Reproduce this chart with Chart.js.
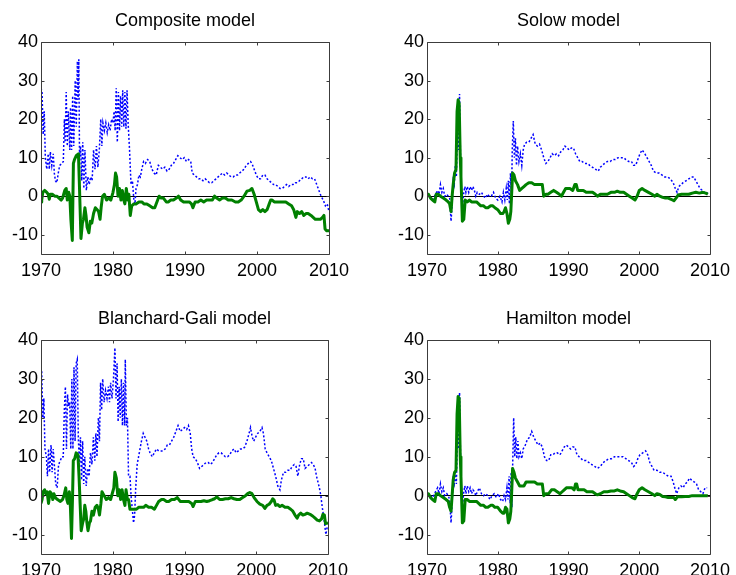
<!DOCTYPE html>
<html>
<head>
<meta charset="utf-8">
<script src="https://cdn.jsdelivr.net/npm/chart.js@4.4.1/dist/chart.umd.min.js"></script>
<style>
  html, body { margin: 0; padding: 0; background: #fff; overflow: hidden; }
  body { width: 736px; height: 575px; position: relative; }
  .panel { position: absolute; }
</style>
</head>
<body>
<div class="panel" id="p0"><canvas id="c0"></canvas></div>
<div class="panel" id="p1"><canvas id="c1"></canvas></div>
<div class="panel" id="p2"><canvas id="c2"></canvas></div>
<div class="panel" id="p3"><canvas id="c3"></canvas></div>
<script>
// ---- data ----
const titles = ["Composite model", "Solow model", "Blanchard-Gali model", "Hamilton model"];
const xTicks = [1970, 1980, 1990, 2000, 2010];
const yTicks = [-10, 0, 10, 20, 30, 40];

// [year, value]
const compositeBlue = [[1970.0,28],[1970.15,27],[1970.3,16],[1970.45,22],[1970.6,10],[1970.8,7],[1971.0,11],[1971.15,7],[1971.3,11.5],[1971.5,8],[1971.7,11],[1971.85,6],[1972.0,4],[1972.2,3.5],[1972.4,6],[1972.6,8],[1972.9,8.5],[1973.1,9],[1973.25,20],[1973.35,14],[1973.5,27],[1973.65,13],[1973.8,22],[1974.0,12],[1974.1,23],[1974.25,12],[1974.4,26],[1974.55,13],[1974.75,30],[1974.9,18],[1975.05,35],[1975.15,25],[1975.25,35.5],[1975.35,10],[1975.5,13],[1975.65,4],[1975.8,14],[1975.95,2],[1976.1,12],[1976.3,1.5],[1976.5,5],[1976.7,3],[1976.9,5],[1977.1,4],[1977.3,12],[1977.5,7],[1977.7,13],[1977.9,7.5],[1978.1,12],[1978.3,20],[1978.45,13],[1978.6,19],[1978.8,17],[1979.0,19],[1979.2,16.5],[1979.4,18.5],[1979.6,17],[1979.8,20],[1980.0,19],[1980.15,22],[1980.3,17],[1980.45,28],[1980.6,14],[1980.75,27],[1980.9,17],[1981.05,26],[1981.2,18],[1981.35,27.5],[1981.5,18],[1981.65,27],[1981.8,17.5],[1981.95,27.5],[1982.1,19],[1982.3,12],[1982.5,3],[1982.7,4],[1982.9,-1],[1983.05,-2],[1983.2,2],[1983.4,3],[1983.6,5.5],[1983.8,5],[1984.0,7],[1984.25,9],[1984.5,8.5],[1984.8,9.5],[1985.1,9],[1985.4,7],[1985.7,6],[1986.0,5.5],[1986.3,8],[1986.6,7.5],[1986.9,7],[1987.2,7.5],[1987.5,6.5],[1987.8,7],[1988.1,8],[1988.4,8.5],[1988.7,9.5],[1989.0,10.5],[1989.3,10],[1989.6,9.5],[1989.9,10],[1990.2,9],[1990.5,9.5],[1990.8,9],[1991.0,6],[1991.3,5.5],[1991.6,5],[1991.9,4.5],[1992.2,4.5],[1992.5,4],[1992.8,4.5],[1993.1,4],[1993.4,3.5],[1993.7,3.5],[1994.0,4],[1994.3,4.5],[1994.6,5],[1994.9,5.5],[1995.2,6],[1995.5,5.5],[1995.8,6],[1996.1,5.5],[1996.4,5],[1996.7,5],[1997.0,5.5],[1997.3,5.5],[1997.6,6],[1997.9,6.5],[1998.2,7],[1998.5,8],[1998.8,8.5],[1999.1,9],[1999.3,8.5],[1999.6,7],[1999.9,5.5],[2000.2,4.5],[2000.5,4.5],[2000.8,5.5],[2001.1,5.5],[2001.4,4.5],[2001.7,4],[2002.0,3.5],[2002.3,3],[2002.6,3],[2002.9,2.5],[2003.2,2],[2003.5,2],[2003.8,2.5],[2004.1,3],[2004.4,2.5],[2004.7,3],[2005.0,3],[2005.3,3.5],[2005.6,3.5],[2005.9,4],[2006.2,4.5],[2006.5,5],[2006.8,5],[2007.1,4.5],[2007.4,5],[2007.7,4.5],[2008.0,4.5],[2008.3,3],[2008.6,1.5],[2008.9,0],[2009.2,-1],[2009.5,-2.5],[2009.75,-2],[2010.0,-4]];
const compositeGreen = [[1970.0,-1.5],[1970.1,-1],[1970.25,1],[1970.5,1.5],[1970.8,1],[1971.0,0.5],[1971.15,-0.8],[1971.3,0.5],[1971.6,0.5],[1971.9,0],[1972.2,0],[1972.5,-0.5],[1972.8,-1],[1973.0,-0.5],[1973.3,1.5],[1973.5,2],[1973.65,-1],[1973.85,1],[1974.0,0],[1974.15,-6],[1974.35,-11.5],[1974.5,8.5],[1974.65,9.5],[1974.9,10.5],[1975.2,11],[1975.35,2],[1975.55,-11],[1975.75,-7],[1975.9,-6],[1976.1,-3],[1976.25,-5],[1976.4,-8],[1976.65,-9.5],[1976.85,-6.5],[1977.05,-7],[1977.3,-4.5],[1977.55,-3],[1977.8,-3.5],[1978.0,-4],[1978.2,-6],[1978.35,-3],[1978.55,0],[1978.8,0.5],[1979.1,-1],[1979.4,-0.5],[1979.7,-1],[1980.0,1],[1980.2,3],[1980.35,6],[1980.5,5],[1980.7,0],[1980.9,2],[1981.1,-1],[1981.3,1.5],[1981.5,-1],[1981.65,-2],[1981.85,2],[1982.05,-1],[1982.2,0.5],[1982.4,-5],[1982.6,-2.5],[1982.9,-2],[1983.2,-2],[1983.6,-1.5],[1984.0,-1.5],[1984.3,-2],[1984.7,-2],[1985.1,-2.5],[1985.5,-3],[1985.8,-3],[1986.1,-1.5],[1986.4,0],[1986.7,-0.5],[1987.0,-0.5],[1987.4,-1.5],[1987.7,-1.5],[1988.0,-1],[1988.4,-1],[1988.8,-0.5],[1989.1,0],[1989.4,-1],[1989.8,-1.5],[1990.2,-1.5],[1990.6,-1.5],[1990.9,-2],[1991.1,-3],[1991.4,-1.5],[1991.8,-1.5],[1992.2,-1],[1992.6,-1.5],[1993.0,-1],[1993.5,-1],[1993.8,-1],[1994.1,0],[1994.4,-0.5],[1994.8,-1],[1995.2,-0.5],[1995.6,-0.5],[1996.0,-1],[1996.5,-1],[1997.0,-1.5],[1997.4,-1.5],[1997.8,-1],[1998.2,0],[1998.6,1.3],[1999.0,1.5],[1999.3,2],[1999.6,0.5],[1999.9,-1.5],[2000.2,-3.5],[2000.5,-4],[2000.8,-3.5],[2001.1,-4],[2001.4,-3.5],[2001.7,-2],[2001.9,-1],[2002.1,-1],[2002.4,-1.5],[2002.8,-1.5],[2003.2,-1.5],[2003.6,-1.5],[2004.0,-1.5],[2004.4,-2],[2004.8,-2.5],[2005.1,-3.5],[2005.4,-5.5],[2005.6,-4],[2005.9,-4.5],[2006.2,-4],[2006.5,-5],[2006.8,-4.5],[2007.1,-4.5],[2007.5,-5],[2007.8,-5.5],[2008.1,-6],[2008.5,-6],[2008.8,-6],[2009.1,-5.5],[2009.3,-5],[2009.45,-8.5],[2009.7,-9],[2010.0,-9]];

const solowBlue = [[1970.0,0.5],[1970.4,0],[1970.8,-1],[1971.2,0.5],[1971.5,1.5],[1971.7,0.5],[1971.9,3],[1972.1,1],[1972.3,2],[1972.5,0],[1972.8,0.5],[1973.0,0],[1973.2,-0.5],[1973.4,-6.5],[1973.55,-2],[1973.7,4],[1973.85,3],[1974.0,8],[1974.15,5],[1974.3,16],[1974.45,12],[1974.6,26.5],[1974.75,8],[1974.9,-1],[1975.0,-3],[1975.2,1],[1975.35,2.5],[1975.5,1],[1975.7,2.5],[1975.9,1],[1976.1,2.5],[1976.3,1.5],[1976.5,2.5],[1976.7,1.5],[1976.9,0],[1977.1,1],[1977.4,0.5],[1977.7,1],[1978.0,0],[1978.3,-0.5],[1978.5,0.5],[1978.8,0],[1979.1,0],[1979.4,1],[1979.7,-0.5],[1980.0,-1],[1980.3,0],[1980.6,-1.5],[1980.8,1],[1981.0,-1],[1981.2,2],[1981.35,-1],[1981.5,4],[1981.65,-2],[1981.8,6],[1981.95,-1],[1982.05,12],[1982.2,19.5],[1982.35,10],[1982.5,15],[1982.65,8],[1982.8,13],[1983.0,9],[1983.2,11],[1983.4,8],[1983.6,12],[1983.8,13.5],[1984.1,14],[1984.4,14],[1984.7,15],[1985.0,16],[1985.3,13.5],[1985.6,13],[1985.9,13.5],[1986.2,12],[1986.5,10],[1986.8,8.5],[1987.1,9],[1987.4,10],[1987.7,11],[1988.0,10.5],[1988.3,11],[1988.6,10.5],[1988.9,11.5],[1989.2,12],[1989.5,13],[1989.8,12.5],[1990.1,12],[1990.4,12.5],[1990.7,12.5],[1991.0,11],[1991.3,10],[1991.6,9],[1991.9,9],[1992.3,8.5],[1992.7,8.5],[1993.0,8],[1993.4,7.5],[1993.8,7],[1994.2,6.5],[1994.5,7.5],[1994.8,8],[1995.1,8.5],[1995.5,9],[1995.9,9],[1996.2,9.5],[1996.6,9.5],[1997.0,10],[1997.4,10],[1997.8,10],[1998.1,9.5],[1998.5,9],[1998.9,9],[1999.2,8],[1999.5,8],[1999.8,9.5],[2000.1,11],[2000.4,12],[2000.8,11],[2001.1,10],[2001.4,9],[2001.7,8],[2002.0,6.5],[2002.4,6],[2002.8,6],[2003.2,5.5],[2003.6,5],[2004.0,5],[2004.4,4.5],[2004.8,3.5],[2005.1,2],[2005.35,1],[2005.6,2.5],[2005.9,3],[2006.2,3.5],[2006.6,4],[2007.0,4.5],[2007.4,5],[2007.7,5],[2008.0,4],[2008.3,3],[2008.6,2],[2008.9,1.5],[2009.2,1],[2009.5,0.5],[2009.7,1]];
const solowGreen = [[1970.0,0.5],[1970.2,0.5],[1970.5,-0.5],[1970.8,-1],[1971.1,-1.5],[1971.3,0.5],[1971.6,0.5],[1971.9,0],[1972.3,-0.5],[1972.7,-1],[1973.0,-1.5],[1973.2,-2],[1973.4,-4],[1973.55,0],[1973.7,3],[1973.9,6],[1974.1,7],[1974.25,22],[1974.4,25],[1974.55,24],[1974.7,10],[1974.8,5],[1975.0,-6.5],[1975.2,-6],[1975.4,-1],[1975.7,-1.5],[1976.0,-1],[1976.3,-1.5],[1976.7,-1.5],[1977.0,-1.5],[1977.3,-2],[1977.6,-2.5],[1978.0,-2.5],[1978.3,-3],[1978.6,-3],[1979.0,-2.5],[1979.3,-2.5],[1979.6,-3],[1980.0,-3.5],[1980.4,-4.5],[1980.7,-4.5],[1980.9,-4],[1981.1,-3],[1981.3,-4.5],[1981.5,-7],[1981.7,-6],[1981.85,-4],[1981.95,0],[1982.1,6],[1982.3,5.5],[1982.5,4],[1982.8,3],[1983.1,1.5],[1983.4,2],[1983.7,2.5],[1984.0,3],[1984.4,3.5],[1984.8,3.5],[1985.2,3],[1985.6,3],[1986.0,3],[1986.3,3],[1986.5,0],[1986.8,0.5],[1987.1,0.5],[1987.5,1],[1987.9,1.5],[1988.3,1],[1988.7,0.5],[1989.0,0],[1989.3,1],[1989.6,2],[1989.9,2],[1990.2,2],[1990.6,1.5],[1990.9,3],[1991.1,3],[1991.3,1.5],[1991.7,1.5],[1992.1,1.5],[1992.5,1],[1993.0,1],[1993.4,1],[1993.8,0.5],[1994.1,0],[1994.5,0.5],[1995.0,0.5],[1995.5,0.5],[1996.0,1],[1996.5,1],[1996.9,1.3],[1997.3,1],[1997.8,1],[1998.2,0.5],[1998.6,0],[1999.0,-0.5],[1999.4,-1],[1999.7,0],[2000.0,1.5],[2000.4,2],[2000.8,1.5],[2001.3,1],[2001.8,0.5],[2002.2,0],[2002.5,0.5],[2002.9,0],[2003.3,-0.3],[2003.7,-0.5],[2004.1,-0.5],[2004.5,-0.8],[2004.9,-1.2],[2005.2,-0.5],[2005.5,0.3],[2006.0,0.5],[2006.5,0.5],[2007.0,0.5],[2007.5,0.8],[2008.0,1],[2008.5,0.8],[2009.0,1],[2009.4,0.8],[2009.7,0.5]];

const galiBlue = [[1970.0,33],[1970.1,32],[1970.25,20],[1970.4,25],[1970.55,12],[1970.75,10],[1970.9,5],[1971.05,12],[1971.2,6],[1971.4,13],[1971.55,6],[1971.7,12],[1971.9,7],[1972.05,3],[1972.25,2],[1972.45,8],[1972.7,9],[1972.9,10],[1973.1,10],[1973.25,22],[1973.4,28],[1973.55,12],[1973.7,26],[1973.85,23],[1974.0,24],[1974.15,12],[1974.3,30],[1974.45,12],[1974.6,33],[1974.75,14],[1974.9,34],[1975.05,35],[1975.2,15],[1975.35,8],[1975.5,15],[1975.65,4],[1975.8,14],[1975.95,3],[1976.1,10],[1976.3,2.5],[1976.5,7],[1976.7,5],[1976.9,11],[1977.1,8],[1977.3,15],[1977.5,9],[1977.65,16],[1977.8,10],[1978.0,20],[1978.15,14],[1978.3,29],[1978.45,22],[1978.6,30],[1978.8,24],[1979.0,27],[1979.2,25],[1979.4,28],[1979.55,24],[1979.7,29],[1979.9,25],[1980.1,30],[1980.3,38],[1980.45,25],[1980.6,34],[1980.75,19],[1980.9,28],[1981.05,20],[1981.2,30],[1981.35,18],[1981.5,29],[1981.65,18],[1981.75,35],[1981.9,18],[1982.05,20],[1982.2,5],[1982.4,5],[1982.55,0],[1982.7,-3],[1982.9,-7],[1983.05,-5],[1983.2,2],[1983.4,8],[1983.6,10],[1983.8,12],[1984.0,14],[1984.25,16],[1984.5,15],[1984.75,14],[1985.0,12],[1985.2,11],[1985.5,10],[1985.8,11],[1986.1,12],[1986.4,11.5],[1986.7,11.5],[1987.0,11.5],[1987.3,12],[1987.6,13],[1987.9,13],[1988.2,14],[1988.5,15],[1988.8,16.5],[1989.1,18],[1989.4,16.5],[1989.7,17],[1990.0,17.5],[1990.3,17],[1990.55,18],[1990.8,16],[1991.0,12],[1991.2,10],[1991.5,9.5],[1991.8,8.5],[1992.1,7],[1992.4,7.5],[1992.7,8],[1993.0,8.5],[1993.3,8.5],[1993.6,8],[1993.9,8.5],[1994.2,9.5],[1994.5,10.5],[1994.8,11],[1995.1,11],[1995.4,10.5],[1995.7,10],[1996.0,10],[1996.3,10.5],[1996.6,11.5],[1996.9,12],[1997.2,11],[1997.5,11.5],[1997.8,12],[1998.1,12],[1998.4,12.5],[1998.7,14],[1999.0,16],[1999.2,17.5],[1999.45,15],[1999.65,14],[1999.9,15],[2000.2,16],[2000.5,16.5],[2000.8,17.5],[2001.0,16],[2001.25,12],[2001.5,11],[2001.8,10],[2002.1,9],[2002.4,7],[2002.7,5],[2003.0,2.5],[2003.3,1.5],[2003.5,4],[2003.8,6],[2004.1,6],[2004.4,6.5],[2004.7,6.5],[2005.0,7.5],[2005.3,8],[2005.55,7.5],[2005.8,5],[2006.05,8],[2006.3,9.5],[2006.55,9.5],[2006.8,7],[2007.1,7.5],[2007.4,8],[2007.7,8.5],[2007.95,8],[2008.2,7],[2008.4,5],[2008.6,3.5],[2008.8,2],[2009.0,0],[2009.2,-3],[2009.45,-6],[2009.7,-10],[2009.9,-8]];
const galiGreen = [[1970.0,-2],[1970.15,-1],[1970.3,1],[1970.5,1.5],[1970.7,0.5],[1970.85,1],[1971.05,-2],[1971.25,1],[1971.45,0.5],[1971.65,-1],[1971.8,0.5],[1972.0,-0.5],[1972.3,-1],[1972.7,-1.5],[1973.0,-1],[1973.2,0],[1973.45,2],[1973.6,-1],[1973.75,-2],[1973.95,1],[1974.1,-3],[1974.25,-11],[1974.4,0],[1974.5,9],[1974.7,9.5],[1974.9,11],[1975.15,10.5],[1975.3,5],[1975.45,-2],[1975.6,-9],[1975.8,-7],[1975.95,-6],[1976.1,-2.5],[1976.25,-4],[1976.4,-7],[1976.55,-9],[1976.75,-7],[1976.9,-6.5],[1977.1,-4],[1977.3,-5],[1977.55,-3],[1977.8,-2.5],[1978.0,-3.5],[1978.15,-5],[1978.35,-2],[1978.5,1],[1978.8,0],[1979.1,-1],[1979.4,-0.5],[1979.7,-1],[1980.0,1],[1980.15,2],[1980.3,6],[1980.5,4.5],[1980.7,0],[1980.9,1.5],[1981.1,-1],[1981.3,1.5],[1981.5,-1],[1981.7,-2.5],[1981.85,1.5],[1982.05,-1],[1982.2,-1],[1982.4,-3.5],[1982.7,-3.5],[1983.0,-3.5],[1983.3,-3.5],[1983.6,-3],[1984.0,-3],[1984.3,-3],[1984.6,-2.5],[1985.0,-3],[1985.4,-3],[1985.8,-3.5],[1986.1,-2.5],[1986.4,-1.5],[1986.8,-1],[1987.1,-1],[1987.5,-1.5],[1987.8,-1.5],[1988.2,-1],[1988.6,-1],[1989.0,-0.5],[1989.4,-1.5],[1989.8,-1.5],[1990.2,-1.5],[1990.6,-1.5],[1991.0,-2],[1991.2,-2.8],[1991.5,-1.5],[1991.9,-1.5],[1992.3,-1.5],[1992.7,-1.3],[1993.1,-1.5],[1993.5,-1.3],[1993.9,-1],[1994.2,-0.8],[1994.5,-0.3],[1994.9,-1],[1995.3,-1],[1995.7,-0.8],[1996.1,-0.8],[1996.5,-0.5],[1996.9,-0.8],[1997.3,-1],[1997.7,-1],[1998.1,-0.5],[1998.5,0],[1998.8,0.5],[1999.1,0.8],[1999.4,0.5],[1999.7,-0.5],[2000.1,-1.5],[2000.5,-2.2],[2000.9,-2.5],[2001.2,-3.3],[2001.5,-2.5],[2001.8,-2.2],[2002.1,-1.5],[2002.3,-0.8],[2002.5,-1.2],[2002.7,-2.5],[2003.0,-2.3],[2003.3,-2.8],[2003.6,-2.5],[2004.0,-3],[2004.4,-3],[2004.8,-3.5],[2005.1,-4],[2005.4,-5],[2005.7,-5.8],[2005.9,-5],[2006.2,-4.5],[2006.5,-5],[2006.8,-4.8],[2007.1,-4.5],[2007.5,-4.8],[2007.9,-5.3],[2008.2,-5.8],[2008.5,-6.3],[2008.8,-6.5],[2009.1,-6],[2009.3,-4.8],[2009.5,-5],[2009.65,-7.2],[2010.0,-7]];

const hamiltonBlue = [[1970.0,0.5],[1970.4,0],[1970.8,-0.5],[1971.2,1],[1971.5,2],[1971.7,0.5],[1971.9,3],[1972.1,1],[1972.3,2],[1972.5,0],[1972.8,0.5],[1973.0,0],[1973.2,-1],[1973.4,-7],[1973.55,-2],[1973.7,4],[1973.85,3],[1974.0,6],[1974.15,3],[1974.3,15],[1974.45,12],[1974.6,26.5],[1974.75,8],[1974.9,-1],[1975.0,-3],[1975.2,1],[1975.35,2.5],[1975.5,0.5],[1975.7,2.5],[1975.9,1],[1976.1,2],[1976.3,0.5],[1976.5,1.5],[1976.7,1],[1976.9,0],[1977.1,1],[1977.4,2],[1977.7,0.5],[1978.0,0],[1978.3,0.5],[1978.6,0],[1978.9,-1],[1979.2,0],[1979.5,0.5],[1979.8,-0.5],[1980.1,0.5],[1980.4,-1],[1980.7,-1.5],[1980.9,0],[1981.1,-1],[1981.3,2],[1981.45,-1],[1981.6,5],[1981.75,-2],[1981.9,6],[1982.0,-3],[1982.1,7],[1982.25,20],[1982.4,10],[1982.55,15],[1982.7,9.5],[1982.85,14],[1983.0,10],[1983.2,11],[1983.4,9.5],[1983.6,12],[1983.9,13],[1984.2,14.5],[1984.5,15],[1984.8,16.5],[1985.1,15],[1985.4,14],[1985.7,13],[1986.0,13.5],[1986.3,12.5],[1986.6,10],[1986.9,9],[1987.2,9],[1987.5,10.5],[1987.8,10.5],[1988.1,11],[1988.4,11],[1988.8,10.5],[1989.1,11.5],[1989.4,12.5],[1989.7,13],[1990.0,12.5],[1990.3,12],[1990.6,12.5],[1990.9,12.5],[1991.2,10.5],[1991.5,10],[1991.8,9.5],[1992.1,9],[1992.5,9],[1992.9,8.5],[1993.3,8],[1993.7,7.5],[1994.1,7],[1994.5,7.5],[1994.9,8.5],[1995.3,9],[1995.7,9.5],[1996.1,9.5],[1996.5,10],[1996.9,10],[1997.3,10],[1997.7,10],[1998.1,9.5],[1998.5,9],[1998.9,8.5],[1999.2,7.5],[1999.5,8],[1999.8,9.5],[2000.1,10.5],[2000.5,11],[2000.9,11.5],[2001.2,10.5],[2001.5,8.5],[2001.8,7.5],[2002.1,6.5],[2002.5,6.5],[2002.9,6],[2003.3,6],[2003.7,5.5],[2004.1,5],[2004.5,5],[2004.8,3.5],[2005.1,1.5],[2005.3,0.5],[2005.6,2],[2005.9,2.5],[2006.2,2],[2006.5,3],[2006.8,3.5],[2007.1,4.5],[2007.4,4],[2007.8,3.5],[2008.1,3],[2008.4,1.5],[2008.7,1],[2009.0,0.5],[2009.3,2],[2009.6,2]];
const hamiltonGreen = [[1970.0,0.5],[1970.2,0.5],[1970.5,-0.5],[1970.8,-1],[1971.1,-1.5],[1971.3,0.5],[1971.6,0.5],[1971.9,0],[1972.3,-0.5],[1972.7,-1],[1973.0,-1.5],[1973.2,-3],[1973.4,-4],[1973.55,0],[1973.7,4],[1973.9,6],[1974.1,6.5],[1974.25,21],[1974.4,25.5],[1974.55,25],[1974.7,10],[1974.8,5],[1975.0,-7],[1975.2,-6.5],[1975.4,-1],[1975.7,-1],[1976.0,-1.5],[1976.3,-1.5],[1976.7,-1.5],[1977.0,-1.5],[1977.3,-2],[1977.6,-2.5],[1978.0,-2.5],[1978.3,-3],[1978.6,-3],[1979.0,-2.5],[1979.3,-2.5],[1979.6,-3],[1980.0,-3],[1980.4,-4],[1980.7,-4.5],[1980.9,-4.5],[1981.1,-3],[1981.3,-3.5],[1981.5,-7],[1981.7,-6],[1981.85,-4],[1981.95,0],[1982.1,7],[1982.3,6],[1982.5,4.5],[1982.8,3.5],[1983.1,2.5],[1983.4,2.5],[1983.7,2.5],[1984.0,3.5],[1984.4,3.5],[1984.8,3.5],[1985.2,3.5],[1985.6,3],[1986.0,3],[1986.3,3],[1986.5,0],[1986.8,0.5],[1987.2,0.5],[1987.6,1.5],[1988.0,1.5],[1988.4,1],[1988.8,0.5],[1989.1,1],[1989.4,1.5],[1989.7,2],[1990.1,2],[1990.5,2],[1990.8,1.5],[1991.0,3],[1991.15,3],[1991.35,1.5],[1991.8,1.5],[1992.2,1.5],[1992.6,1],[1993.0,1],[1993.4,1],[1993.8,0.5],[1994.1,0.2],[1994.5,0.5],[1995.0,1],[1995.5,1],[1996.0,1.2],[1996.5,1.2],[1996.9,1.5],[1997.3,1.2],[1997.8,1],[1998.2,0.5],[1998.6,0],[1999.0,-0.5],[1999.4,-0.8],[1999.7,0.5],[2000.0,1.5],[2000.4,2],[2000.8,1.5],[2001.3,1],[2001.8,0.5],[2002.2,0],[2002.5,0.5],[2002.9,0.3],[2003.3,-0.2],[2003.7,-0.3],[2004.1,-0.5],[2004.5,-0.5],[2004.9,-0.5],[2005.1,-1],[2005.4,-0.3],[2006.0,-0.3],[2006.5,-0.2],[2007.0,-0.2],[2007.5,0],[2008.0,0],[2008.5,0],[2009.0,0],[2009.4,0],[2009.7,0]];

// ---- layout ----
const FONT = "'Liberation Sans', Arial, Helvetica, sans-serif";
const panels = [
  { title: titles[0], blue: compositeBlue, green: compositeGreen, left: 0,   top: 0,   w: 368, h: 287, yw: 41, pr: 39, xh: 33 },
  { title: titles[1], blue: solowBlue,     green: solowGreen,     left: 368, top: 0,   w: 368, h: 287, yw: 59, pr: 23, xh: 33 },
  { title: titles[2], blue: galiBlue,      green: galiGreen,      left: 0,   top: 298, w: 368, h: 277, yw: 41, pr: 40, xh: 21 },
  { title: titles[3], blue: hamiltonBlue,  green: hamiltonGreen,  left: 368, top: 298, w: 368, h: 277, yw: 59, pr: 23, xh: 21 },
];

function toXY(arr) {
  return arr.map((p) => ({ x: p[0], y: p[1] }));
}

// matlab-style box with inward ticks on all four sides
const boxPlugin = {
  id: "matlabBox",
  afterDraw(chart) {
    const { ctx, chartArea: a, scales } = chart;
    ctx.save();
    ctx.strokeStyle = "#3c3c3c";
    ctx.lineWidth = 1;
    ctx.beginPath();
    const L = Math.round(a.left) + 0.5, R = Math.round(a.right) + 0.5;
    const T = Math.round(a.top) + 0.5, B = Math.round(a.bottom) + 0.5;
    ctx.rect(L, T, R - L, B - T);
    const tl = 3;
    for (const v of xTicks) {
      const x = Math.round(scales.x.getPixelForValue(v)) + 0.5;
      ctx.moveTo(x, B); ctx.lineTo(x, B - tl);
      ctx.moveTo(x, T); ctx.lineTo(x, T + tl);
    }
    for (const v of yTicks) {
      const y = Math.round(scales.y.getPixelForValue(v)) + 0.5;
      ctx.moveTo(L, y); ctx.lineTo(L + tl, y);
      ctx.moveTo(R, y); ctx.lineTo(R - tl, y);
    }
    ctx.stroke();
    ctx.restore();
  },
};

panels.forEach((p, i) => {
  const div = document.getElementById("p" + i);
  div.style.left = p.left + "px";
  div.style.top = p.top + "px";
  div.style.width = p.w + "px";
  div.style.height = p.h + "px";

  new Chart(document.getElementById("c" + i), {
    type: "line",
    data: {
      datasets: [
        {
          label: "green",
          data: toXY(p.green),
          borderColor: "rgb(0,128,0)",
          borderWidth: 3,
          borderJoinStyle: "round",
          pointRadius: 0,
          tension: 0,
          order: 1,
        },
        {
          label: "blue",
          data: toXY(p.blue),
          borderColor: "rgb(0,0,255)",
          borderWidth: 1.5,
          borderDash: [2, 2],
          pointRadius: 0,
          tension: 0,
          order: 2,
        },
      ],
    },
    options: {
      responsive: true,
      maintainAspectRatio: false,
      animation: false,
      events: [],
      devicePixelRatio: 1,
      layout: { padding: { left: 0, right: p.pr, top: 0, bottom: 0 } },
      plugins: {
        legend: { display: false },
        tooltip: { enabled: false },
        title: {
          display: true,
          fullSize: false,
          text: p.title,
          color: "#000",
          font: { family: FONT, size: 18, weight: "normal", lineHeight: 1.2 },
          padding: { top: 10, bottom: 10.4 },
        },
      },
      scales: {
        x: {
          type: "linear",
          min: 1970,
          max: 2010,
          afterBuildTicks: (s) => { s.ticks = xTicks.map((v) => ({ value: v })); },
          afterFit: (s) => { s.height = p.xh; },
          grid: { display: false, drawTicks: false },
          border: { display: false },
          ticks: {
            color: "#000",
            padding: 6,
            maxRotation: 0,
            font: { family: FONT, size: 18 },
            callback: (v) => String(v),
          },
        },
        y: {
          type: "linear",
          min: -15,
          max: 40,
          afterBuildTicks: (s) => { s.ticks = yTicks.map((v) => ({ value: v })); },
          afterFit: (s) => { s.width = p.yw; },
          grid: {
            drawTicks: false,
            lineWidth: 1,
            color: (c) => (c.tick && c.tick.value === 0 ? "#000" : "rgba(0,0,0,0)"),
          },
          border: { display: false },
          ticks: {
            color: "#000",
            padding: 3,
            font: { family: FONT, size: 18 },
            callback: (v) => String(v),
          },
        },
      },
    },
    plugins: [boxPlugin],
  });
});
</script>
</body>
</html>
